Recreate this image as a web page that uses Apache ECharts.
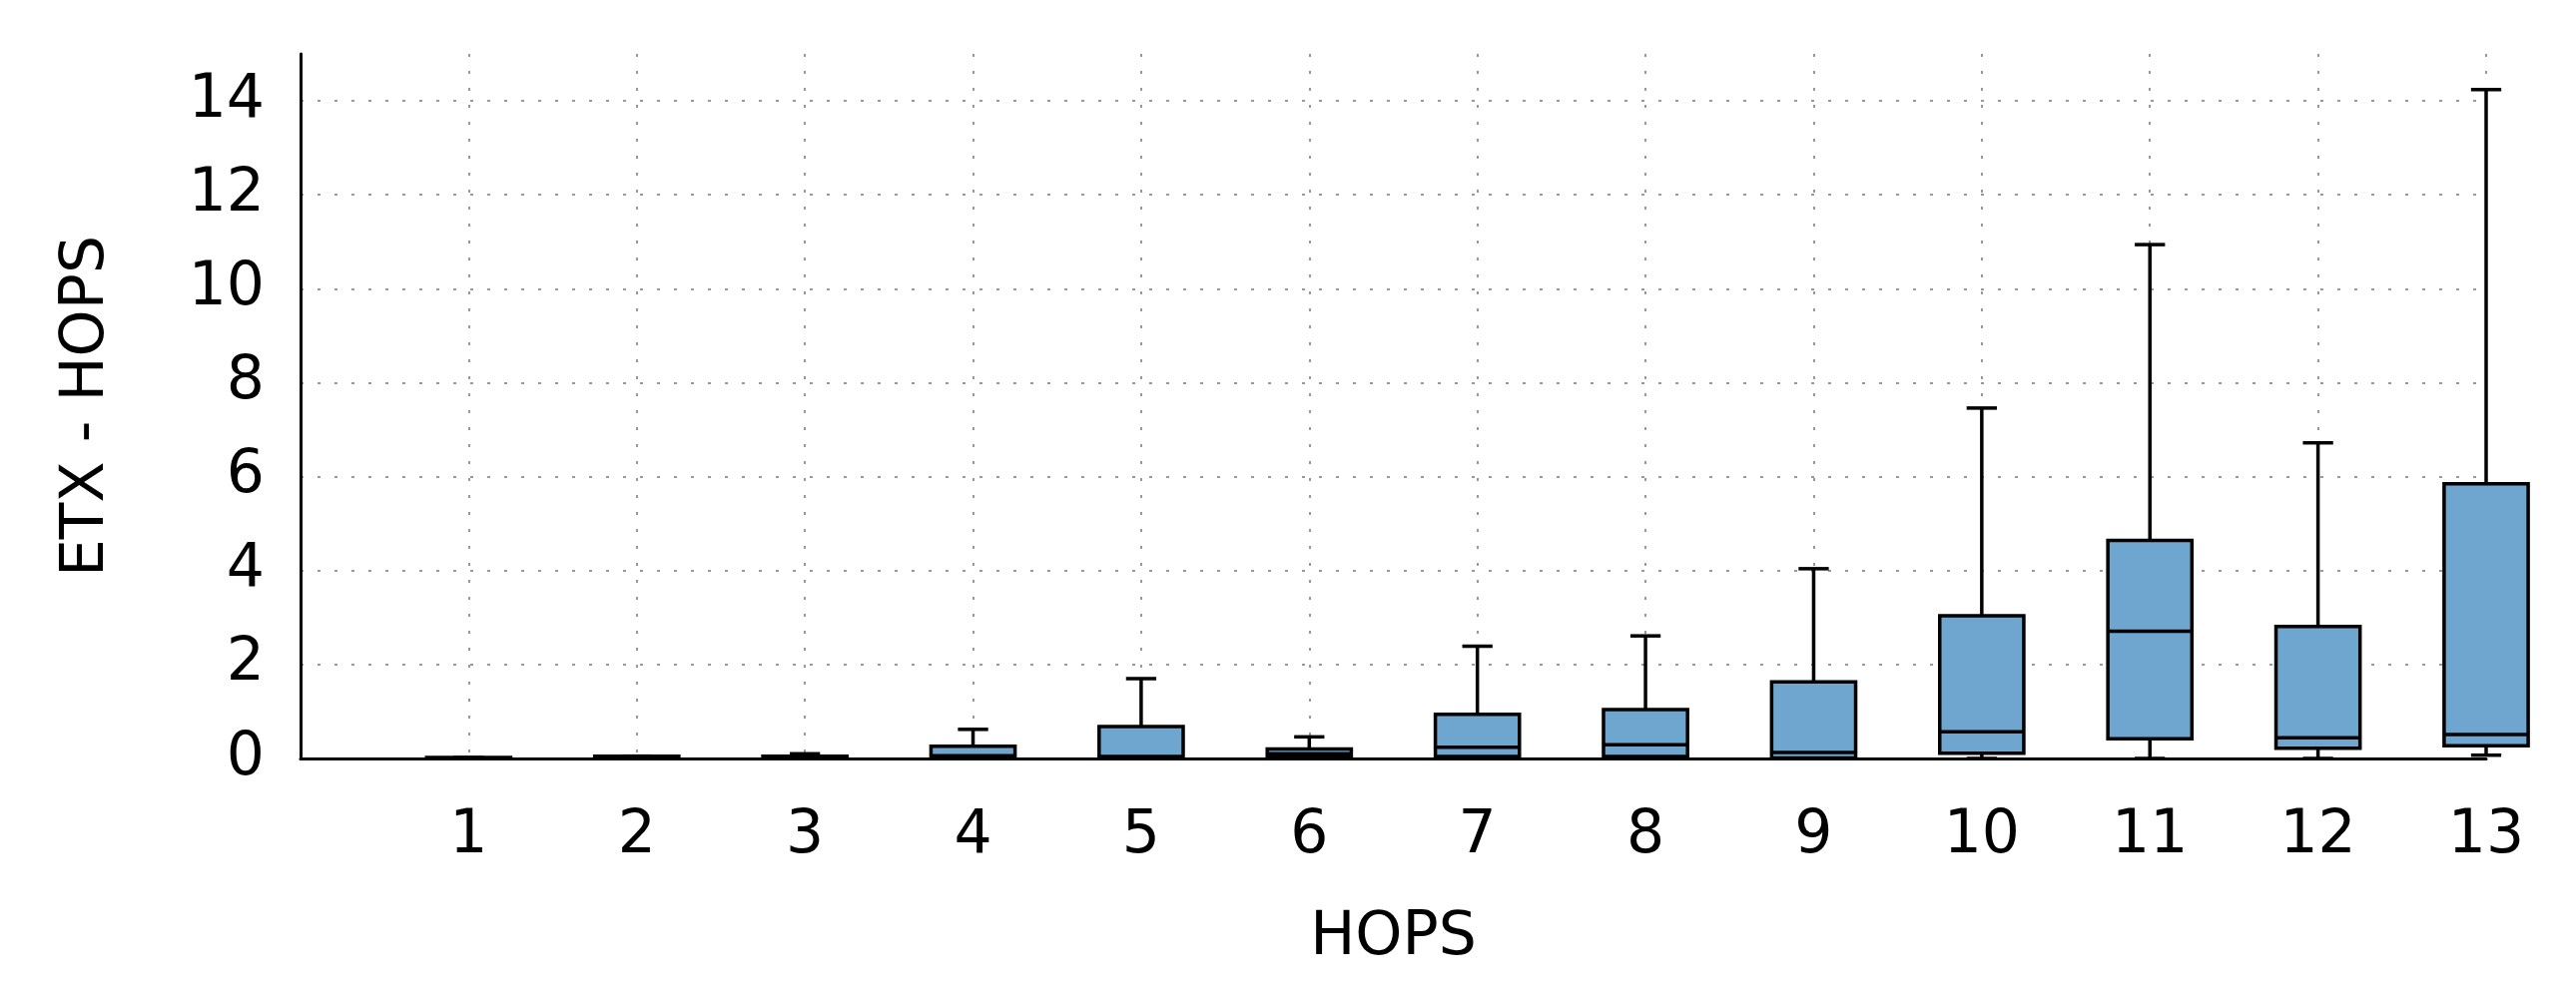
<!DOCTYPE html>
<html>
<head>
<meta charset="utf-8">
<script src="https://cdn.jsdelivr.net/npm/echarts@6/dist/echarts.min.js"></script>
<style>
  html, body { margin: 0; padding: 0; background: #fff; }
  #chart { width: 2580px; height: 996px; }
</style>
</head>
<body>
<div id="chart"></div>
<script>
// hop counts and the box statistics of ETX - HOPS per hop count
const hops = [1, 2, 3, 4, 5, 6, 7, 8, 9, 10, 11, 12, 13]
const whiskerLow = [0, 0, 0, 0, 0, 0, 0, 0, 0, 0, 0, 0, 0.07]
const q1 = [0, 0, 0, 0, 0, 0.03, 0.04, 0.04, 0.01, 0.11, 0.42, 0.22, 0.27]
const median = [0, 0.01, 0.02, 0.06, 0.04, 0.1, 0.24, 0.29, 0.13, 0.57, 2.71, 0.44, 0.51]
const q3 = [0.02, 0.05, 0.05, 0.26, 0.68, 0.2, 0.94, 1.04, 1.63, 3.04, 4.64, 2.81, 5.85]
const whiskerHigh = [0.02, 0.05, 0.1, 0.62, 1.7, 0.46, 2.39, 2.61, 4.04, 7.46, 10.94, 6.72, 14.24]
const yTicks = [0, 2, 4, 6, 8, 10, 12, 14]

const BOX_WIDTH = 0.5
const CAP_WIDTH = 0.18
const font = '"DejaVu Sans", sans-serif'

const rows = hops.map((h, i) => [h, whiskerLow[i], q1[i], median[i], q3[i], whiskerHigh[i]])

function renderBox(params, api) {
  const x = api.value(0)
  const pLow = api.coord([x, api.value(1)])
  const pQ1 = api.coord([x, api.value(2)])
  const pMed = api.coord([x, api.value(3)])
  const pQ3 = api.coord([x, api.value(4)])
  const pHigh = api.coord([x, api.value(5)])
  const half = api.size([BOX_WIDTH, 0])[0] / 2
  const cap = api.size([CAP_WIDTH, 0])[0] / 2
  const cx = pMed[0]
  const line = { stroke: '#000', lineWidth: 3.5 }
  return {
    type: 'group',
    children: [
      { type: 'line', shape: { x1: cx, y1: pQ3[1], x2: cx, y2: pHigh[1] }, style: line },
      { type: 'line', shape: { x1: cx, y1: pQ1[1], x2: cx, y2: pLow[1] }, style: line },
      { type: 'line', shape: { x1: cx - cap, y1: pHigh[1], x2: cx + cap, y2: pHigh[1] }, style: line },
      { type: 'line', shape: { x1: cx - cap, y1: pLow[1], x2: cx + cap, y2: pLow[1] }, style: line },
      {
        type: 'rect',
        shape: { x: cx - half, y: pQ3[1], width: half * 2, height: pQ1[1] - pQ3[1] },
        style: { fill: '#6ea6cf', stroke: '#000', lineWidth: 3.5 },
      },
      { type: 'line', shape: { x1: cx - half, y1: pMed[1], x2: cx + half, y2: pMed[1] }, style: line },
    ],
  }
}

const chart = echarts.init(document.getElementById('chart'))
chart.setOption({
  animation: false,
  backgroundColor: '#fff',
  textStyle: { fontFamily: font, color: '#000' },
  grid: { left: 301, right: 90, top: 54, bottom: 236 },
  xAxis: {
    type: 'value',
    min: 0,
    max: 13,
    name: 'HOPS',
    nameLocation: 'middle',
    nameGap: 150,
    nameTextStyle: { fontFamily: font, fontSize: 60, color: '#000' },
    axisLine: { show: true, onZero: false, lineStyle: { color: '#000', width: 3 } },
    axisTick: { show: false, customValues: hops },
    axisLabel: { customValues: hops, fontFamily: font, fontSize: 60, color: '#000', margin: 48 },
    splitLine: { show: true, lineStyle: { color: '#999', width: 2, type: [3, 14] } },
  },
  yAxis: {
    type: 'value',
    min: 0,
    max: 15,
    name: 'ETX - HOPS',
    nameLocation: 'middle',
    nameGap: 184,
    nameRotate: 90,
    nameTextStyle: { fontFamily: font, fontSize: 60, color: '#000' },
    axisLine: { show: true, lineStyle: { color: '#000', width: 3 } },
    axisTick: { show: false, customValues: yTicks },
    axisLabel: { customValues: yTicks, fontFamily: font, fontSize: 60, color: '#000', margin: 36 },
    splitLine: { show: true, lineStyle: { color: '#999', width: 2, type: [3, 14] } },
  },
  series: [
    {
      type: 'custom',
      renderItem: renderBox,
      clip: false,
      encode: { x: 0, y: [1, 2, 3, 4, 5] },
      data: rows,
    },
  ],
})
</script>
</body>
</html>
